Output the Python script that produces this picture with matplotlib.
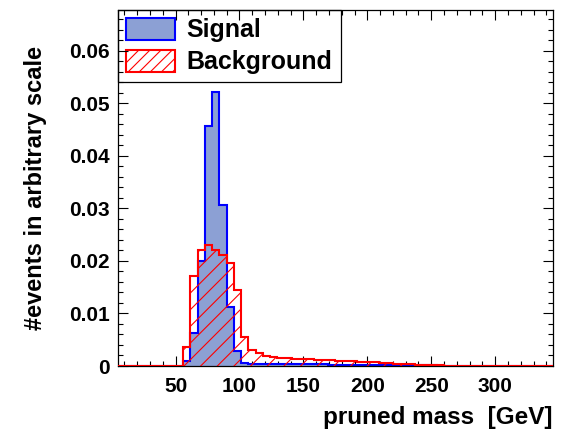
import numpy as np
import matplotlib
matplotlib.use("Agg")
import matplotlib.pyplot as plt
from matplotlib.patches import Patch
from matplotlib.ticker import MultipleLocator, FixedLocator

plt.rcParams['font.family'] = ['Liberation Sans', 'DejaVu Sans']
plt.rcParams['font.weight'] = 'bold'
plt.rcParams['hatch.linewidth'] = 0.8

# binning: 60 bins from 5 to 345 GeV
bin_lo = 5.0
bin_hi = 345.0
n_bins = 60

signal = [0, 0, 0, 0, 0, 0, 0, 0, 0,
          0.0010, 0.0063, 0.0200, 0.0457, 0.0522, 0.0306, 0.0112, 0.0028, 0.0006,
          0.0004, 0.0004, 0.0004, 0.0004, 0.0003, 0.0003, 0.0003, 0.0003, 0.0003,
          0.0003, 0.0003, 0.0002, 0.0002, 0.0002, 0.0002, 0.0002, 0.0002, 0.0002,
          0.0001, 0.0001, 0.0001, 0.0001, 0.0001, 0.0001, 0.0001, 0.0001, 0,
          0, 0, 0, 0, 0, 0, 0, 0, 0, 0, 0, 0, 0, 0, 0]

background = [0, 0, 0, 0, 0, 0, 0, 0, 0,
              0.0037, 0.0172, 0.0221, 0.0230, 0.0221, 0.0211, 0.0197, 0.0145, 0.0055,
              0.0031, 0.0024, 0.0019, 0.0017, 0.0016, 0.0015, 0.0014, 0.0014, 0.0013,
              0.0012, 0.0012, 0.0011, 0.0010, 0.0010, 0.0009, 0.0008, 0.0008, 0.0007,
              0.0006, 0.0005, 0.0004, 0.0003, 0.0003, 0.0002, 0.0002, 0.0001, 0.0001,
              0, 0, 0, 0, 0, 0, 0, 0, 0, 0, 0, 0, 0, 0, 0]

x_major = [50, 100, 150, 200, 250, 300]
y_major = [0, 0.01, 0.02, 0.03, 0.04, 0.05, 0.06]
y_labels = ["0", "0.01", "0.02", "0.03", "0.04", "0.05", "0.06"]

edges = np.linspace(bin_lo, bin_hi, n_bins + 1)

W, H = 566, 430
fig = plt.figure(figsize=(W / 100, H / 100), dpi=100)
ax = fig.add_axes([118 / W, 1 - 366 / H, (552.7 - 118) / W, (366 - 10) / H])

sig_fill = '#8ca0d4'
ax.stairs(signal, edges, fill=True, facecolor=sig_fill, edgecolor='blue',
          linewidth=1.5, zorder=2)
ax.stairs(background, edges, fill=True, facecolor='none', edgecolor='red',
          hatch='//', linewidth=1.5, zorder=3)

ax.set_xlim(bin_lo, bin_hi)
ax.set_ylim(0, 0.0678)

ax.xaxis.set_major_locator(FixedLocator(x_major))
ax.xaxis.set_minor_locator(MultipleLocator(10))
ax.yaxis.set_major_locator(FixedLocator(y_major))
ax.set_yticklabels(y_labels)
ax.yaxis.set_minor_locator(MultipleLocator(0.002))

ax.tick_params(which='both', direction='in', top=True, right=True, width=0.8)
ax.tick_params(which='major', length=7.5)
ax.tick_params(which='minor', length=3.8)
ax.tick_params(axis='x', which='major', labelsize=15, pad=8)
ax.tick_params(axis='y', which='major', labelsize=15, pad=6)
for lab in ax.get_xticklabels() + ax.get_yticklabels():
    lab.set_fontweight('bold')
for sp in ax.spines.values():
    sp.set_linewidth(0.9)

ax.set_xlabel("pruned mass  [GeV]", fontsize=17.5, fontweight='bold', loc='right',
              labelpad=7)
ax.set_ylabel("#events in arbitrary scale", fontsize=17, fontweight='bold')
ax.yaxis.set_label_coords(-0.163, 0.5)

handles = [Patch(facecolor=sig_fill, edgecolor='blue', linewidth=1.5),
           Patch(facecolor='white', edgecolor='red', hatch='///', linewidth=1.5)]
leg = ax.legend(handles, ["Signal", "Background"], loc='upper left',
                bbox_to_anchor=(0.0, 0.803, 0.513, 0.197), mode='expand',
                borderaxespad=0, fancybox=False, edgecolor='black',
                framealpha=1, prop={'size': 18, 'weight': 'bold'},
                handlelength=1.97, handleheight=1.0, handletextpad=0.45,
                borderpad=0.3, labelspacing=0.3)
leg.get_frame().set_linewidth(0.9)
leg.set_zorder(1)

fig.savefig("out.png", dpi=100)
